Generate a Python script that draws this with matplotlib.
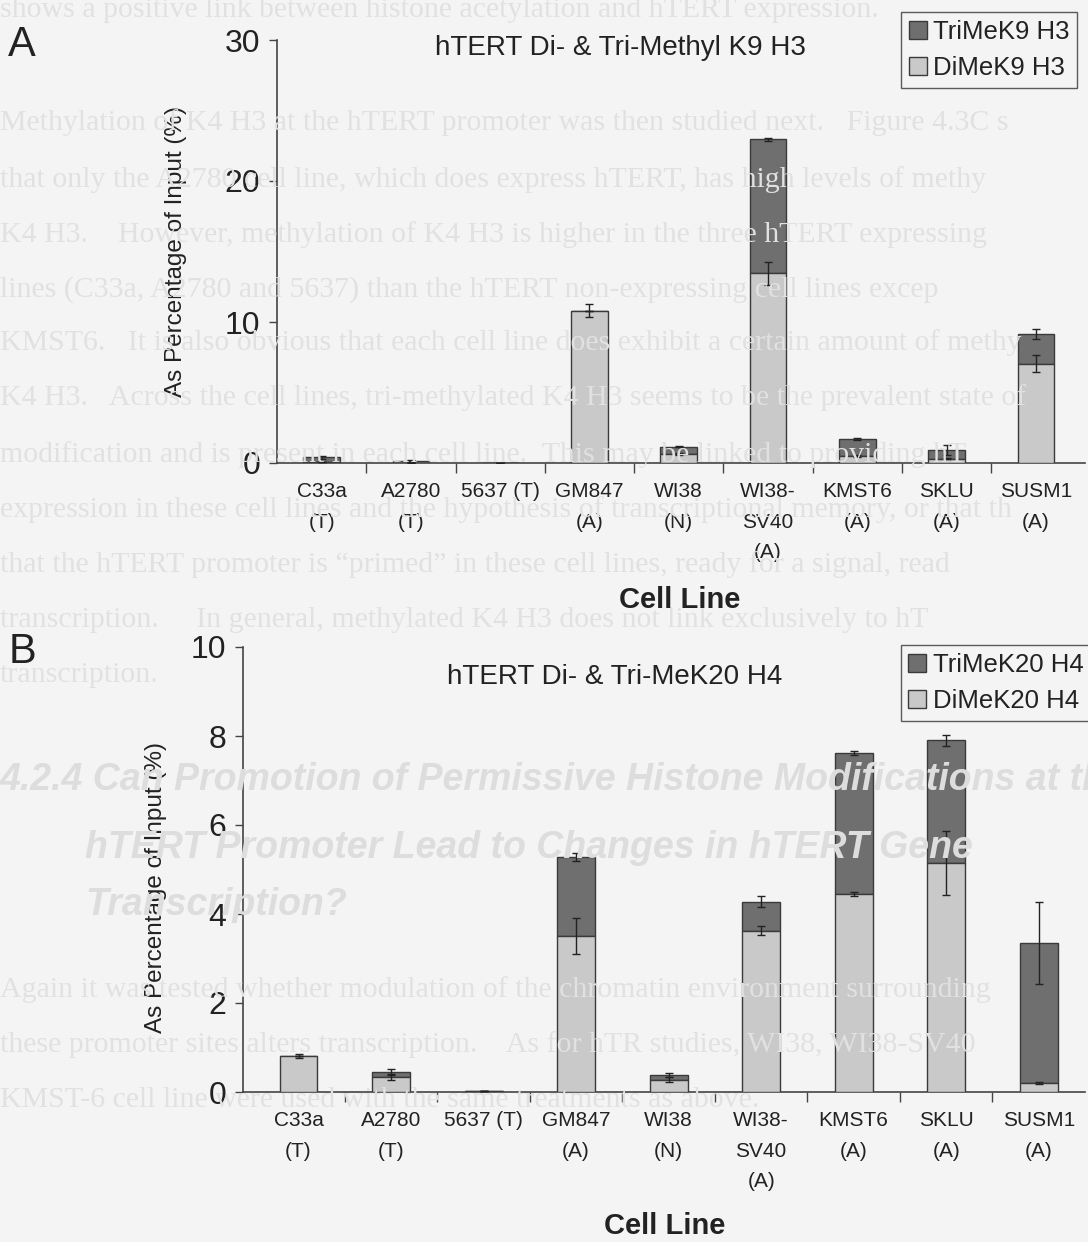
import matplotlib.pyplot as plt
import numpy as np

# data
cell_lines = ["C33a\n(T)", "A2780\n(T)", "5637 (T)", "GM847\n(A)", "WI38\n(N)",
              "WI38-\nSV40\n(A)", "KMST6\n(A)", "SKLU\n(A)", "SUSM1\n(A)"]

k9_di = [0.10, 0.03, 0.0, 10.8, 0.65, 13.45, 0.5, 0.3, 7.05]
k9_tri = [0.30, 0.12, 0.0, 0.0, 0.50, 9.5, 1.2, 0.6, 2.1]
k9_di_err = [0.0, 0.0, 0.0, 0.45, 0.05, 0.8, 0.1, 0.05, 0.6]
k9_tri_err = [0.1, 0.05, 0.0, 0.0, 0.05, 0.1, 0.05, 0.35, 0.35]

k20_di = [0.81, 0.33, 0.02, 3.5, 0.28, 3.62, 4.45, 5.15, 0.2]
k20_tri = [0.0, 0.13, 0.0, 1.78, 0.10, 0.66, 3.17, 2.75, 3.14]
k20_di_err = [0.05, 0.05, 0.0, 0.4, 0.05, 0.1, 0.05, 0.72, 0.03]
k20_tri_err = [0.0, 0.05, 0.0, 0.08, 0.05, 0.12, 0.05, 0.12, 0.92]

# faint text of the page showing through the scan
page_lines = [
    (10, "shows a positive link between histone acetylation and hTERT expression."),
    (123, "Methylation of K4 H3 at the hTERT promoter was then studied next.   Figure 4.3C s"),
    (180, "that only the A2780 cell line, which does express hTERT, has high levels of methy"),
    (235, "K4 H3.    However, methylation of K4 H3 is higher in the three hTERT expressing"),
    (290, "lines (C33a, A2780 and 5637) than the hTERT non-expressing cell lines excep"),
    (343, "KMST6.   It is also obvious that each cell line does exhibit a certain amount of methy"),
    (398, "K4 H3.   Across the cell lines, tri-methylated K4 H3 seems to be the prevalent state of"),
    (455, "modification and is present in each cell line.  This may be linked to providing hT"),
    (510, "expression in these cell lines and the hypothesis of transcriptional memory, or that th"),
    (565, "that the hTERT promoter is \u201cprimed\u201d in these cell lines, ready for a signal, read"),
    (620, "transcription.     In general, methylated K4 H3 does not link exclusively to hT"),
    (675, "transcription."),
    (990, "Again it was tested whether modulation of the chromatin environment surrounding"),
    (1045, "these promoter sites alters transcription.    As for hTR studies, WI38, WI38-SV40"),
    (1100, "KMST-6 cell line were used with the same treatments as above."),
]
heading_lines = [
    (780, 0, "4.2.4 Can Promotion of Permissive Histone Modifications at the"),
    (848, 85, "hTERT Promoter Lead to Changes in hTERT Gene"),
    (905, 85, "Transcription?"),
]

W, H = 1088, 1242
narrow = ["Liberation Sans Narrow", "Liberation Sans", "DejaVu Sans"]
plt.rcParams["font.family"] = ["Liberation Sans", "DejaVu Sans"]

fig = plt.figure(figsize=(W / 100, H / 100), dpi=100)
fig.patch.set_facecolor("#f4f4f4")

for y, line in page_lines:
    fig.text(0.0, 1 - y / H, line, fontsize=21.5, family=["Liberation Serif", "DejaVu Serif"],
             color="#e1e1e1", va="center", ha="left", zorder=0)
for y, x, line in heading_lines:
    fig.text(x / W, 1 - y / H, line, fontsize=27, weight="bold", style="italic",
             color="#dddddd", va="center", ha="left", zorder=0)

dark = "#6f6f6f"
light = "#c9c9c9"
edge = "#3a3a3a"


def draw_panel(rect, di, tri, di_err, tri_err, ymax, yticks, xlim, title, title_xy,
               leg_labels, leg_rect, letter_xy, letter, xlabel_xy, ylab_x, ylab_y):
    ax = fig.add_axes(rect)
    ax.set_facecolor("none")
    x = np.arange(len(cell_lines))
    di = np.array(di)
    tri = np.array(tri)
    b_tri = ax.bar(x, tri, 0.41, bottom=di, color=dark, edgecolor=edge, linewidth=1.0, zorder=3)
    b_di = ax.bar(x, di, 0.41, color=light, edgecolor=edge, linewidth=1.0, zorder=3)
    ax.errorbar(x, di, yerr=di_err, fmt="none", ecolor="#222222", elinewidth=1.0,
                capsize=3, zorder=4)
    ax.errorbar(x, di + tri, yerr=tri_err, fmt="none", ecolor="#222222", elinewidth=1.0,
                capsize=3, zorder=4)

    ax.set_xlim(*xlim)
    ax.set_ylim(0, ymax)
    ax.set_yticks(yticks)
    ax.set_yticklabels([str(t) for t in yticks], fontsize=23, family=narrow, color="#222222")
    ax.set_xticks(x)
    ax.set_xticklabels(cell_lines, fontsize=15, family=narrow, color="#222222", linespacing=1.75)
    ax.set_xticks(np.arange(0.5, len(cell_lines) - 0.5, 1), minor=True)
    ax.tick_params(axis="x", which="major", length=0, pad=14)
    ax.tick_params(axis="x", which="minor", length=7, width=1.0, color="#444444", direction="out")
    ax.tick_params(axis="y", length=6, width=1.0, color="#444444", pad=6)
    for s in ["top", "right"]:
        ax.spines[s].set_visible(False)
    for s in ["left", "bottom"]:
        ax.spines[s].set_color("#444444")
        ax.spines[s].set_linewidth(1.2)

    ax.set_ylabel("As Percentage of Input (%)", fontsize=17.5, color="#222222")
    ax.yaxis.set_label_coords(ylab_x, ylab_y)

    fig.text(title_xy[0] / W, 1 - title_xy[1] / H, title, fontsize=20, ha="center",
             va="center", color="#222222")
    fig.text(letter_xy[0] / W, 1 - letter_xy[1] / H, letter, fontsize=30, ha="center",
             va="center", color="#222222")
    fig.text(xlabel_xy[0] / W, 1 - xlabel_xy[1] / H, "Cell Line", fontsize=21, weight="bold",
             ha="center", va="center", color="#222222")

    leg = fig.legend([b_tri, b_di], leg_labels, loc="center",
                     bbox_to_anchor=((leg_rect[0] + leg_rect[2] / 2) / W,
                                     1 - (leg_rect[1] + leg_rect[3] / 2) / H),
                     fontsize=18.5, handlelength=0.7, handleheight=0.7, handletextpad=0.25,
                     labelspacing=0.5, borderpad=0.3, fancybox=False, frameon=True)
    leg.get_frame().set_edgecolor("#333333")
    leg.get_frame().set_linewidth(1.0)
    leg.get_frame().set_facecolor("#f4f4f4")
    for t in leg.get_texts():
        t.set_color("#222222")
    return ax


# panel A: axis from x=277 to 1085, y=45 to 463
draw_panel([277 / W, 1 - 463 / H, (1085 - 277) / W, (463 - 40) / H],
           k9_di, k9_tri, k9_di_err, k9_tri_err, 29.8, [0, 10, 20, 30], (-0.5, 8.55),
           "hTERT Di- & Tri-Methyl K9 H3", (620, 48),
           ["TriMeK9 H3", "DiMeK9 H3"], (895, 12, 188, 76), (22, 45), "A", (680, 600),
           -0.112, 0.5)

# panel B: axis from x=243 to 1085, y=647 to 1092
draw_panel([243 / W, 1 - 1092 / H, (1085 - 243) / W, (1092 - 647) / H],
           k20_di, k20_tri, k20_di_err, k20_tri_err, 10, [0, 2, 4, 6, 8, 10], (-0.6, 8.5),
           "hTERT Di- & Tri-MeK20 H4", (615, 677),
           ["TriMeK20 H4", "DiMeK20 H4"], (908, 646, 176, 74), (22, 652), "B", (665, 1226),
           -0.09, 0.46)

fig.savefig("out.png", dpi=100, facecolor=fig.get_facecolor())
